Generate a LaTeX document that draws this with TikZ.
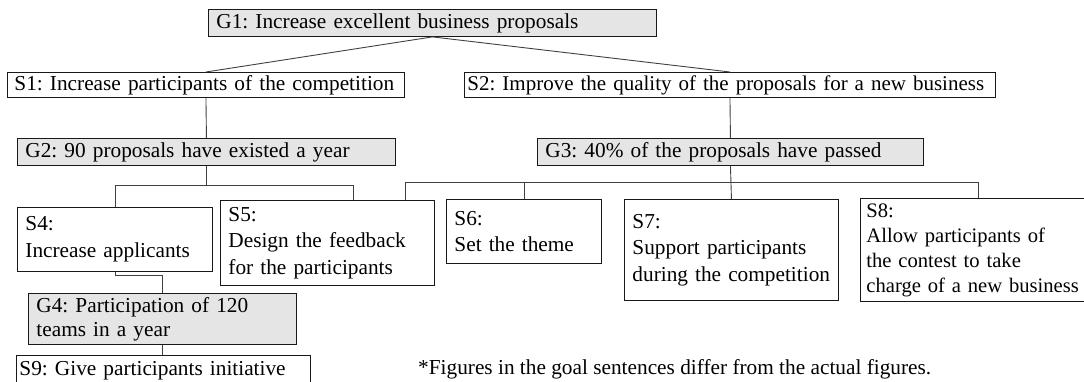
\documentclass[tikz,border=0pt]{standalone}
\usepackage{fontspec}
\setmainfont{Liberation Serif}
\usetikzlibrary{calc}
\frenchspacing
\begin{document}
\begin{tikzpicture}[x=1pt,y=-1pt,
  bx/.style={draw=black!90, line width=0.9pt, rectangle, inner xsep=8pt, inner ysep=0pt,
    anchor=north west, align=left, font=\fontsize{21.3}{26.5}\selectfont\frenchspacing},
  gbx/.style={bx, fill=black!10},
  conn/.style={draw=black!75, line width=0.9pt},
  note/.style={font=\fontsize{21.3}{24}\selectfont\frenchspacing, anchor=west, inner sep=0pt}]
\useasboundingbox (0,0) rectangle (1084,382);
\clip (0,0) rectangle (1084,382);
% boxes
\node[gbx, minimum width=448pt, minimum height=27pt, text width=432pt] (G1) at (208,9) {G1: Increase excellent business proposals};
\node[bx, inner xsep=7pt, minimum width=397pt, minimum height=25pt, text width=383pt] (S1) at (7,72) {S1: Increase participants of the competition};
\node[bx, inner xsep=3pt, minimum width=531pt, minimum height=25pt, text width=525pt, font=\fontsize{21}{26}\selectfont\frenchspacing] (S2) at (464,72) {S2: Improve the quality of the proposals for a new business};
\node[gbx, minimum width=378pt, minimum height=27pt, text width=362pt] (G2) at (17,138) {G2: 90 proposals have existed a year};
\node[gbx, minimum width=386pt, minimum height=27pt, text width=370pt] (G3) at (537,138) {G3: 40\% of the proposals have passed};
\node[bx, minimum width=195pt, minimum height=64pt, text width=179pt] (S4) at (17,207) {S4:\\Increase applicants};
\node[bx, minimum width=214pt, minimum height=85pt, text width=198pt] (S5) at (220,200) {S5:\\Design the feedback\\for the participants};
\node[bx, minimum width=155pt, minimum height=64pt, text width=139pt] (S6) at (446,199) {S6:\\Set the theme};
\node[bx, minimum width=214pt, minimum height=101pt, text width=198pt] (S7) at (624,199) {S7:\\Support participants\\during the competition};
\node[bx, inner xsep=6pt, minimum width=236pt, minimum height=103pt, text width=224pt, font=\fontsize{20.6}{25}\selectfont\frenchspacing] (S8) at (860,198) {S8:\\Allow participants of\\the contest to take\\charge of a new business};
\node[gbx, minimum width=268pt, minimum height=51pt, text width=252pt, font=\fontsize{21.3}{24}\selectfont\frenchspacing] (G4) at (28,293) {G4: Participation of 120\\teams in a year};
\node[bx, inner xsep=3pt, minimum width=294pt, minimum height=30pt, text width=288pt] (S9) at (16,355) {S9: Give participants initiative};
\node[note] (N) at (418,369) {*Figures in the goal sentences differ from the actual figures.};
% connection points
\coordinate (b2) at (0,185);
\coordinate (b3) at (0,182);
\coordinate (b4) at (0,275);
\coordinate (S5a) at ($(S5.north west)+(133,0)$);
\coordinate (S5b) at ($(S5.north west)+(185,0)$);
% connectors
\draw[conn] (G1.south) -- (S1.north);
\draw[conn] (G1.south) -- (S2.north);
\draw[conn] (S1.south) -- (G2.north);
\draw[conn] (S2.south) -- (G3.north);
\draw[conn] (G2.south) -- (G2.south |- b2);
\draw[conn] (S4.north) -- (S4.north |- b2) -- (S5a |- b2) -- (S5a);
\draw[conn] (G3.south) -- (S7.north);
\draw[conn] (S5b) -- (S5b |- b3) -- (S8.north |- b3) -- (S8.north);
\draw[conn] (S6.north) -- (S6.north |- b3);
\draw[conn] (S4.south) -- (S4.south |- b4) -| (G4.north);
\draw[conn] (G4.south) -- (G4.south |- S9.north);
\end{tikzpicture}
\end{document}
